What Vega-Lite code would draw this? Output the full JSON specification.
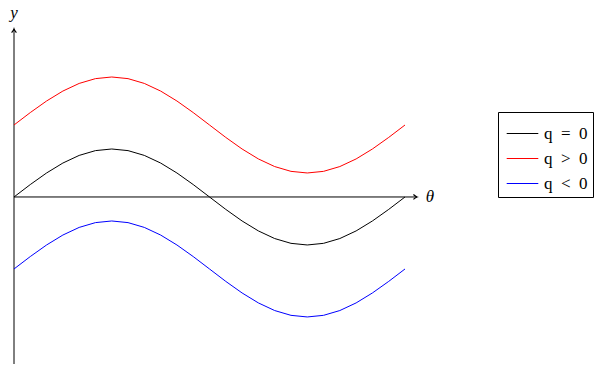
{
  "$schema": "https://vega.github.io/schema/vega-lite/v6.json",
  "autosize": "none",
  "width": 403,
  "height": 335,
  "padding": {"left": 14, "top": 29, "right": 186, "bottom": 3},
  "config": {"view": {"stroke": null}},
  "layer": [
    {
      "data": {"values": [
        {"x": 0, "y": 0, "x2": 6.476, "y2": 0},
        {"x": 0, "y": -3.48, "x2": 0, "y2": 3.5}
      ]},
      "mark": {"type": "rule", "color": "black", "strokeWidth": 1},
      "encoding": {
        "x": {"field": "x", "type": "quantitative", "scale": {"domain": [0, 6.476], "nice": false, "zero": false}, "axis": null},
        "y": {"field": "y", "type": "quantitative", "scale": {"domain": [-3.48, 3.5], "nice": false, "zero": false}, "axis": null},
        "x2": {"field": "x2"},
        "y2": {"field": "y2"}
      }
    },
    {
      "data": {"values": [
        {"x": 6.476, "y": 0, "dir": "right"},
        {"x": 0, "y": 3.5, "dir": "up"}
      ]},
      "mark": {"type": "point", "filled": false, "color": "black", "strokeWidth": 1.2, "size": 64, "opacity": 1},
      "encoding": {
        "x": {"field": "x", "type": "quantitative"},
        "y": {"field": "y", "type": "quantitative"},
        "shape": {"field": "dir", "type": "nominal", "legend": null,
          "scale": {"domain": ["right", "up"], "range": ["M -0.9 -0.6 Q -0.3 -0.1 0 0 Q -0.3 0.1 -0.9 0.6", "M -0.6 0.9 Q -0.1 0.3 0 0 Q 0.1 0.3 0.6 0.9"]}}
      }
    },
    {
      "data": {"values": [
        {"x": 6.685, "y": 0, "label": "θ"},
        {"x": 0, "y": 3.833, "label": "y"}
      ]},
      "mark": {"type": "text", "font": "Liberation Serif", "fontStyle": "italic", "fontSize": 17, "align": "center", "baseline": "middle", "color": "black"},
      "encoding": {
        "x": {"field": "x", "type": "quantitative"},
        "y": {"field": "y", "type": "quantitative"},
        "text": {"field": "label"}
      }
    },
    {
      "data": {"values": [
        {"t": 0, "q = 0": 0, "q > 0": 1.5, "q < 0": -1.5},
        {"t": 0.2618, "q = 0": 0.2588, "q > 0": 1.7588, "q < 0": -1.2412},
        {"t": 0.5236, "q = 0": 0.5, "q > 0": 2.0, "q < 0": -1.0},
        {"t": 0.7854, "q = 0": 0.7071, "q > 0": 2.2071, "q < 0": -0.7929},
        {"t": 1.0472, "q = 0": 0.866, "q > 0": 2.366, "q < 0": -0.634},
        {"t": 1.309, "q = 0": 0.9659, "q > 0": 2.4659, "q < 0": -0.5341},
        {"t": 1.5708, "q = 0": 1, "q > 0": 2.5, "q < 0": -0.5},
        {"t": 1.8326, "q = 0": 0.9659, "q > 0": 2.4659, "q < 0": -0.5341},
        {"t": 2.0944, "q = 0": 0.866, "q > 0": 2.366, "q < 0": -0.634},
        {"t": 2.3562, "q = 0": 0.7071, "q > 0": 2.2071, "q < 0": -0.7929},
        {"t": 2.618, "q = 0": 0.5, "q > 0": 2.0, "q < 0": -1.0},
        {"t": 2.8798, "q = 0": 0.2588, "q > 0": 1.7588, "q < 0": -1.2412},
        {"t": 3.1416, "q = 0": 0, "q > 0": 1.5, "q < 0": -1.5},
        {"t": 3.4034, "q = 0": -0.2588, "q > 0": 1.2412, "q < 0": -1.7588},
        {"t": 3.6652, "q = 0": -0.5, "q > 0": 1.0, "q < 0": -2.0},
        {"t": 3.927, "q = 0": -0.7071, "q > 0": 0.7929, "q < 0": -2.2071},
        {"t": 4.1888, "q = 0": -0.866, "q > 0": 0.634, "q < 0": -2.366},
        {"t": 4.4506, "q = 0": -0.9659, "q > 0": 0.5341, "q < 0": -2.4659},
        {"t": 4.7124, "q = 0": -1, "q > 0": 0.5, "q < 0": -2.5},
        {"t": 4.9742, "q = 0": -0.9659, "q > 0": 0.5341, "q < 0": -2.4659},
        {"t": 5.236, "q = 0": -0.866, "q > 0": 0.634, "q < 0": -2.366},
        {"t": 5.4978, "q = 0": -0.7071, "q > 0": 0.7929, "q < 0": -2.2071},
        {"t": 5.7596, "q = 0": -0.5, "q > 0": 1.0, "q < 0": -2.0},
        {"t": 6.0214, "q = 0": -0.2588, "q > 0": 1.2412, "q < 0": -1.7588},
        {"t": 6.2832, "q = 0": 0, "q > 0": 1.5, "q < 0": -1.5}
      ]},
      "transform": [{"fold": ["q = 0", "q > 0", "q < 0"], "as": ["series", "v"]}],
      "mark": {"type": "line", "strokeWidth": 1},
      "encoding": {
        "x": {"field": "t", "type": "quantitative"},
        "y": {"field": "v", "type": "quantitative"},
        "color": {"field": "series", "type": "nominal",
          "scale": {"domain": ["q = 0", "q > 0", "q < 0"], "range": ["black", "red", "blue"]},
          "legend": {
            "title": null, "orient": "none", "legendX": 484, "legendY": 83,
            "symbolType": "stroke", "symbolSize": 1000, "symbolStrokeWidth": 1,
            "labelFont": "Liberation Serif", "labelFontSize": 17, "labelColor": "black",
            "labelExpr": "replace(replace(datum.label, ' ', '\u2002'), ' ', '\u2002')",
            "strokeColor": "black", "padding": 5, "rowPadding": 0, "labelOffset": 5,
            "symbolOffset": 3
          }
        }
      }
    }
  ]
}
